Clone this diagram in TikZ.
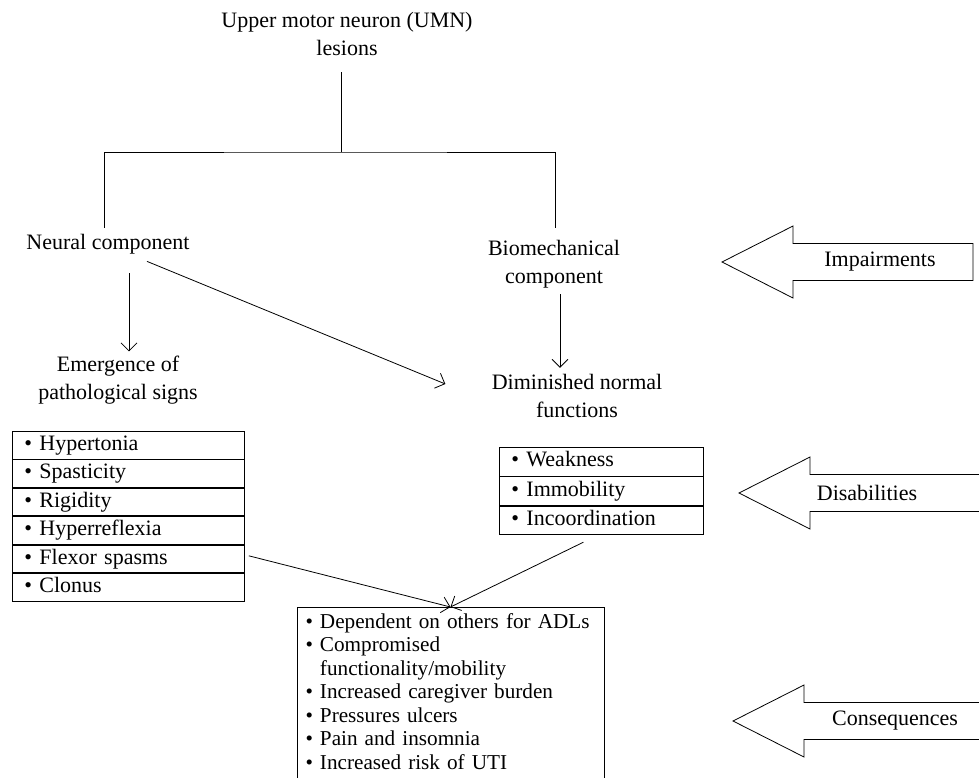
\documentclass[tikz,border=0pt]{standalone}
\usepackage{fontspec}
\setmainfont{Liberation Serif}
\usetikzlibrary{arrows.meta,positioning,calc}

\tikzset{
  lbl/.style={align=center, inner sep=2pt, font=\fontsize{11}{14}\selectfont},
  arr/.style={-{Straight Barb[length=4pt,width=8pt]}},
  row/.style={draw, inner xsep=6pt, inner ysep=0pt, text width=#1, minimum height=13.8pt,
    text height=7.6pt, text depth=2.4pt, align=left, font=\fontsize{11}{13}\selectfont},
  blk/.style={draw, line join=miter},
}
\newcommand{\itm}{\textbullet\ }

\begin{document}
\begin{tikzpicture}[x=0.5pt,y=-0.5pt]
  \useasboundingbox (0,0) rectangle (979,777);

  % tree at the top
  \node[lbl] (umn) at (347,34) {Upper motor neuron (UMN)\\lesions};
  \node[lbl] (neural) at (108,244) {Neural component};
  \node[lbl] (biomech) at (554,264) {Biomechanical\\component};
  \node[lbl] (emerg) at (118,380) {Emergence of\\pathological signs};
  \node[lbl] (dimin) at (577,396) {Diminished normal\\functions};
  \coordinate (bar) at (341,152);

  \draw ($(umn.south -| bar)+(0,12)$) -- (bar);
  \draw ($(neural.north)+(-4,-2)$) |- (bar) -| ($(biomech.north)+(1,-8)$);
  \draw[arr] ($(neural.south)+(21,15)$) -- ($(neural.south |- emerg.north)+(21,0)$);
  \draw[arr] ($(neural.south)+(39,3)$) -- ($(dimin.west)+(-42,-12)$);
  \draw[arr] ($(biomech.south)+(6,2)$) -- ($(biomech.south |- dimin.north)+(6,-2)$);

  % signs
  \node[row=104pt, anchor=north west] (s1) at (12,431) {\itm Hypertonia};
  \node[row=104pt, below=0pt of s1] (s2) {\itm Spasticity};
  \node[row=104pt, below=0pt of s2] (s3) {\itm Rigidity};
  \node[row=104pt, below=0pt of s3] (s4) {\itm Hyperreflexia};
  \node[row=104pt, below=0pt of s4] (s5) {\itm Flexor spasms};
  \node[row=104pt, below=0pt of s5] (s6) {\itm Clonus};

  % functions
  \node[row=90pt, minimum height=14.3pt, anchor=north west] (w1) at (499,447) {\itm Weakness};
  \node[row=90pt, minimum height=14.3pt, below=0pt of w1] (w2) {\itm Immobility};
  \node[row=90pt, minimum height=14.3pt, below=0pt of w2] (w3) {\itm Incoordination};

  % consequences
  \node[draw, anchor=north, text width=145pt, inner xsep=4.25pt, inner ysep=3pt, align=left,
    font=\fontsize{10.6}{11.75}\selectfont] (cons) at (450.5,607) {%
    \itm Dependent on others for ADLs\\
    \itm Compromised\\
    \phantom{\itm}functionality/mobility\\
    \itm Increased caregiver burden\\
    \itm Pressures ulcers\\
    \itm Pain and insomnia\\
    \itm Increased risk of UTI\rule[-10pt]{0pt}{10pt}};

  \draw[arr] ($(s5.east)+(4,-3)$) -- (cons.north);
  \draw[arr] ($(w3.south)+(-18,7)$) -- (cons.north);

  % block arrows on the right
  \foreach \nm/\tx/\ty/\ex/\lx/\txt in {imp/722/262/973/880/Impairments,
      dis/739/493/992/867/Disabilities, con/733/721/992/895/Consequences}{
    \draw[blk] (\tx,\ty) -- (\tx+71,\ty-36) -- (\tx+71,\ty-18.5) -- (\ex,\ty-18.5)
      -- (\ex,\ty+18.5) -- (\tx+71,\ty+18.5) -- (\tx+71,\ty+36) -- cycle;
    \node[lbl] (\nm) at (\lx,\ty) {\txt};
  }
\end{tikzpicture}
\end{document}
